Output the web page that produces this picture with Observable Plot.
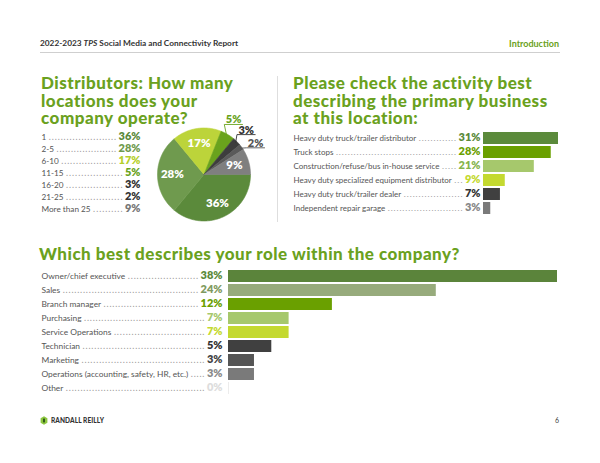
<!DOCTYPE html>
<html><head><meta charset="utf-8">
<script src="https://cdn.jsdelivr.net/npm/d3@7"></script>
<script src="https://cdn.jsdelivr.net/npm/@observablehq/plot@0.6"></script>
<style>
body{margin:0;background:#fff;font-family:Lato,"Open Sans",sans-serif;}
#page{position:relative;width:600px;height:463px;overflow:hidden;background:#fff;}
.abs{position:absolute;white-space:nowrap;}
.title{color:#6aa120;font-weight:900;font-size:17px;line-height:17.5px;letter-spacing:0.5px;}
svg text{paint-order:stroke;stroke-linejoin:round;}
</style></head><body><div id="page">
<div class="abs" style="left:40px;top:38px;font-size:8.3px;font-weight:700;color:#333">2022-2023 <i>TPS</i> Social Media and Connectivity Report</div>
<div class="abs" style="right:41px;top:37.5px;font-size:9px;font-weight:700;color:#6aa120">Introduction</div>
<div class="abs" style="left:40px;top:51.5px;width:520px;height:1.5px;background:#cfcfcf"></div>
<div class="abs title" style="left:41px;top:74px">Distributors: How many<br>locations does your<br>company operate?</div>
<div class="abs title" style="left:293px;top:74px">Please check the activity best<br>describing the primary business<br>at this location:</div>
<div class="abs" style="left:277px;top:76px;width:1px;height:146px;background:#dedede"></div>
<div class="abs title" style="left:39px;top:245px">Which best describes your role within the company?</div>
<div id="list" class="abs" style="left:30px;top:135px"></div>
<div id="pie" class="abs" style="left:150px;top:110px"></div>
<div id="activity" class="abs" style="left:285px;top:128.2px"></div>
<div id="role" class="abs" style="left:30px;top:267.3px"></div>
<div class="abs" style="left:40px;top:416px;display:flex;align-items:center">
<svg width="8" height="9" viewBox="0 0 8 9"><path d="M4 0.3 L7.4 2.3 L7.4 6.7 L4 8.7 L0.6 6.7 L0.6 2.3 Z" fill="#8cc63f"/><rect x="3" y="2.6" width="2" height="3.8" fill="#2f5a1a"/></svg>
<span style="font-size:6.5px;font-weight:900;color:#333;margin-left:3px;letter-spacing:0.1px">RANDALL REILLY</span></div>
<div class="abs" style="left:555px;top:416px;font-size:7px;color:#444">6</div>
</div>
<script>
// ---- data ----
const locCategories = ["1", "2-5", "6-10", "11-15", "16-20", "21-25", "More than 25"];
const locValues = [36, 28, 17, 5, 3, 2, 9];
const locColors = ["#5b8a3b", "#6f9a4e", "#bcd43a", "#6aa31d", "#3d3d3d", "#5a5a5a", "#7f7f7f"];
const locTextColors = ["#5b8a3b", "#6f9a4e", "#b5cf2c", "#6aa31d", "#333333", "#333333", "#777777"];

const activityCategories = ["Heavy duty truck/trailer distributor", "Truck stops", "Construction/refuse/bus in-house service", "Heavy duty specialized equipment distributor", "Heavy duty truck/trailer dealer", "Independent repair garage"];
const activityValues = [31, 28, 21, 9, 7, 3];
const activityColors = ["#5b8a3b", "#6aa000", "#a6c86c", "#c4d930", "#404040", "#7a7a7a"];
const activityTextColors = ["#5b8a3b", "#6aa000", "#86b44e", "#c4d930", "#333333", "#888888"];

const roleCategories = ["Owner/chief executive", "Sales", "Branch manager", "Purchasing", "Service Operations", "Technician", "Marketing", "Operations (accounting, safety, HR, etc.)", "Other"];
const roleValues = [38, 24, 12, 7, 7, 5, 3, 3, 0];
const roleColors = ["#5b843b", "#97ab7c", "#6aa000", "#a6c86c", "#c4d930", "#404040", "#555555", "#7a7a7a", "#eeeeee"];
const roleTextColors = ["#5b8a3b", "#7f9a60", "#6aa000", "#a6c86c", "#c4d930", "#333333", "#444444", "#8a8a8a", "#dddddd"];

// ---- helpers ----
const VALUE_SIZE = 11, DOT_STEP = 2.9, GAP = 2.5;
const STYLE = {overflow: "visible", fontFamily: "Lato, sans-serif"};
function rows(cats, vals, cols, tcols) {
  return cats.map((c, i) => ({cat: c, value: vals[i], color: cols[i], textColor: tcols[i]}));
}
// three text marks, in this order: leader dots, labels, values
function listMarks(data, {labelDx, valueDx, valueX, labelSize}) {
  const valuePos = valueX === undefined ? {frameAnchor: "right"} : {x: () => valueX};
  return [
    Plot.text(data, {y: "cat", ...valuePos, text: () => ".", textAnchor: "end", dx: valueDx, fontSize: labelSize + 0.5, fill: "#9a9a9a"}),
    Plot.text(data, {y: "cat", frameAnchor: "left", text: "cat", textAnchor: "start", dx: labelDx, fontSize: labelSize, fill: "#555"}),
    Plot.text(data, {y: "cat", ...valuePos, text: d => d.value + "%", textAnchor: "end", dx: valueDx, dy: -1, fontSize: VALUE_SIZE, fontWeight: 800, fill: "textColor"})
  ];
}
// dot leaders: fill the space between each label and its value
function fixLeaders(svg, span) {
  const groups = svg.querySelectorAll('g[aria-label="text"]');
  const D = groups[0].querySelectorAll("text");
  const L = groups[1].querySelectorAll("text");
  const V = groups[2].querySelectorAll("text");
  D.forEach((t, i) => {
    const lw = L[i].getComputedTextLength(), vw = V[i].getComputedTextLength();
    const len = span - lw - vw - 2 * GAP;
    const n = Math.max(0, Math.round(len / DOT_STEP));
    t.textContent = ".".repeat(n);
    if (n > 1) { t.setAttribute("textLength", len); t.setAttribute("lengthAdjust", "spacing"); }
    t.setAttribute("dx", -(vw + GAP));
  });
}

// ---- left list ----
const locData = rows(locCategories, locValues, locColors, locTextColors);
const listSvg = Plot.plot({
  width: 115, height: 76.7, marginLeft: 11, marginRight: 5, marginTop: 0, marginBottom: 0,
  style: STYLE,
  y: {domain: locCategories, axis: null, padding: 0},
  color: {type: "identity"},
  marks: listMarks(locData, {labelDx: 0, valueDx: 0, labelSize: 8.2})
});
document.getElementById("list").append(listSvg);
fixLeaders(listSvg, 99);

// ---- pie ----
const arcs = d3.pie().sort(null).startAngle(Math.PI / 2).endAngle(Math.PI / 2 + 2 * Math.PI)(locValues);
const sliceMarks = arcs.map((a, i) => {
  const n = Math.max(2, Math.ceil((a.endAngle - a.startAngle) / (Math.PI / 180)));
  const pts = [{x: 0, y: 0}];
  for (let k = 0; k <= n; k++) {
    const t = a.startAngle + (a.endAngle - a.startAngle) * k / n;
    pts.push({x: Math.sin(t), y: Math.cos(t)});
  }
  pts.push({x: 0, y: 0});
  return Plot.line(pts, {x: "x", y: "y", fill: locColors[i], stroke: locColors[i], strokeWidth: 0.6, curve: "linear"});
});
const inside = [], outside = [];
let lastAng = -Infinity;
arcs.forEach((a, i) => {
  const mid = (a.startAngle + a.endAngle) / 2;
  if (locValues[i] >= 6) {
    inside.push({x: 0.68 * Math.sin(mid), y: 0.68 * Math.cos(mid), text: locValues[i] + "%"});
  } else {
    const ang = Math.max(mid, lastAng + 0.28);
    lastAng = ang;
    outside.push({lx: 1.25 * Math.sin(ang), ly: 1.25 * Math.cos(ang), sx: 0.96 * Math.sin(mid), sy: 0.96 * Math.cos(mid), text: locValues[i] + "%", color: i === 5 ? "#555555" : locTextColors[i]});
  }
});
document.getElementById("pie").append(Plot.plot({
  width: 130, height: 120, marginLeft: 7, marginRight: 30, marginTop: 17.5, marginBottom: 9.5,
  style: STYLE,
  x: {domain: [-1, 1], axis: null}, y: {domain: [-1, 1], axis: null},
  color: {type: "identity"},
  marks: [
    ...sliceMarks,
    Plot.text(inside, {x: "x", y: "y", text: "text", fill: "white", fontSize: 11.5, fontWeight: 800}),
    Plot.link(outside, {x1: d => d.lx - 0.2, x2: d => d.lx + 0.2, y1: "ly", y2: "ly", stroke: "color", strokeWidth: 0.9}),
    Plot.link(outside, {x1: d => d.lx - 0.2, y1: "ly", x2: "sx", y2: "sy", stroke: "color", strokeWidth: 0.9}),
    Plot.text(outside, {x: "lx", y: "ly", text: "text", fill: "color", fontSize: 11, fontWeight: 800, lineAnchor: "bottom", dy: -1})
  ]
}));

// ---- bar charts ----
function barChart(el, cats, vals, cols, tcols, opt) {
  const data = rows(cats, vals, cols, tcols);
  const svg = Plot.plot({
    width: opt.width, height: opt.height, marginLeft: opt.marginLeft, marginRight: opt.marginRight, marginTop: 0, marginBottom: 0,
    style: STYLE,
    x: {domain: [0, d3.max(vals)], axis: null},
    y: {domain: cats, axis: null, padding: 0.12},
    color: {type: "identity"},
    marks: [
      Plot.barX(data, {x: "value", y: "cat", fill: "color"}),
      Plot.tickX(data.filter(d => d.value === 0), {x: "value", y: "cat", stroke: "#ececec"}),
      ...listMarks(data, {labelDx: opt.labelX - opt.marginLeft, valueDx: opt.valueRight - opt.marginLeft, valueX: 0, labelSize: opt.labelSize})
    ]
  });
  document.getElementById(el).append(svg);
  fixLeaders(svg, opt.valueRight - opt.labelX);
}
barChart("activity", activityCategories, activityValues, activityColors, activityTextColors,
  {width: 290, height: 90.6, marginLeft: 198, marginRight: 17, labelX: 8, valueRight: 195, labelSize: 8});
barChart("role", roleCategories, roleValues, roleColors, roleTextColors,
  {width: 540, height: 129.5, marginLeft: 198, marginRight: 13, labelX: 11, valueRight: 192, labelSize: 8.4});
</script>
</body></html>
